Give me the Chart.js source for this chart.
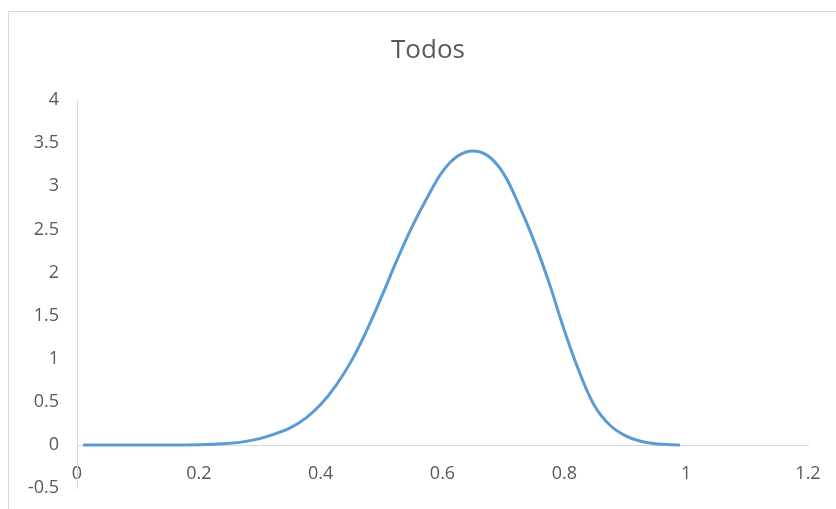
<!DOCTYPE html>
<html>
<head>
<meta charset="utf-8">
<script src="https://cdn.jsdelivr.net/npm/chart.js@4/dist/chart.umd.min.js"></script>
<style>
  html, body { margin: 0; padding: 0; background: #ffffff; }
  #wrap { position: relative; width: 836px; height: 509px; }
</style>
</head>
<body>
<div id="wrap"><canvas id="c" width="836" height="509"></canvas></div>
<script>
// Density curve "Todos"
const chartTitle = 'Todos';
const xValues = [0.01, 0.05, 0.10, 0.15, 0.20, 0.225, 0.25, 0.275, 0.30, 0.325, 0.35, 0.375, 0.40, 0.425, 0.45, 0.475, 0.50, 0.525, 0.55, 0.575, 0.60, 0.625, 0.65, 0.675, 0.70, 0.725, 0.75, 0.775, 0.80, 0.825, 0.85, 0.875, 0.90, 0.925, 0.95, 0.975, 0.99];
const yValues = [0, 0, 0, 0, 0.005, 0.01, 0.02, 0.04, 0.075, 0.13, 0.2, 0.31, 0.47, 0.69, 0.97, 1.32, 1.72, 2.14, 2.53, 2.87, 3.17, 3.35, 3.41, 3.35, 3.15, 2.79, 2.37, 1.88, 1.33, 0.84, 0.45, 0.23, 0.11, 0.045, 0.015, 0.003, 0];
const xTickLabels = ['0', '0.2', '0.4', '0.6', '0.8', '1', '1.2'];
const yTickLabels = ['-0.5', '0', '0.5', '1', '1.5', '2', '2.5', '3', '3.5', '4'];

const points = xValues.map((x, i) => ({ x: x, y: yValues[i] }));

const textColor = '#595959';
const axisColor = '#d9d9d9';

// white background, outer frame and the title
const framePlugin = {
  id: 'frame',
  beforeDraw(chart) {
    const ctx = chart.ctx;
    ctx.save();
    ctx.fillStyle = '#ffffff';
    ctx.fillRect(0, 0, chart.width, chart.height);
    ctx.strokeStyle = '#d9d9d9';
    ctx.lineWidth = 1;
    ctx.strokeRect(8.5, 11.5, chart.width + 20, chart.height + 20);
    ctx.fillStyle = textColor;
    ctx.font = '26px "Open Sans"';
    ctx.textAlign = 'center';
    ctx.textBaseline = 'alphabetic';
    ctx.fillText(chartTitle, 428, 58);
    ctx.restore();
  }
};

new Chart(document.getElementById('c'), {
  type: 'scatter',
  data: {
    datasets: [{
      label: chartTitle,
      data: points,
      showLine: true,
      borderColor: '#5b9bd5',
      borderWidth: 3,
      pointRadius: 0,
      pointHoverRadius: 0,
      tension: 0.4,
      fill: false
    }]
  },
  options: {
    responsive: false,
    animation: false,
    layout: { padding: { top: 100, left: 0, right: 28, bottom: 2 } },
    plugins: {
      legend: { display: false },
      tooltip: { enabled: false },
      title: { display: false }
    },
    scales: {
      x: {
        type: 'linear',
        position: { y: 0 },
        min: 0,
        max: 1.2,
        grid: { display: false },
        border: { display: true, color: axisColor, width: 1 },
        ticks: {
          stepSize: 0.2,
          padding: 10,
          color: textColor,
          font: { family: 'Open Sans', size: 18 },
          maxRotation: 0,
          callback: (v, i) => xTickLabels[i]
        }
      },
      y: {
        type: 'linear',
        min: -0.5,
        max: 4,
        grid: { display: false },
        border: { display: true, color: axisColor, width: 1 },
        afterFit(scale) { scale.width = 77; },
        ticks: {
          stepSize: 0.5,
          padding: 10,
          color: textColor,
          font: { family: 'Open Sans', size: 18 },
          callback: (v, i) => yTickLabels[i]
        }
      }
    }
  },
  plugins: [framePlugin]
});
</script>
</body>
</html>
